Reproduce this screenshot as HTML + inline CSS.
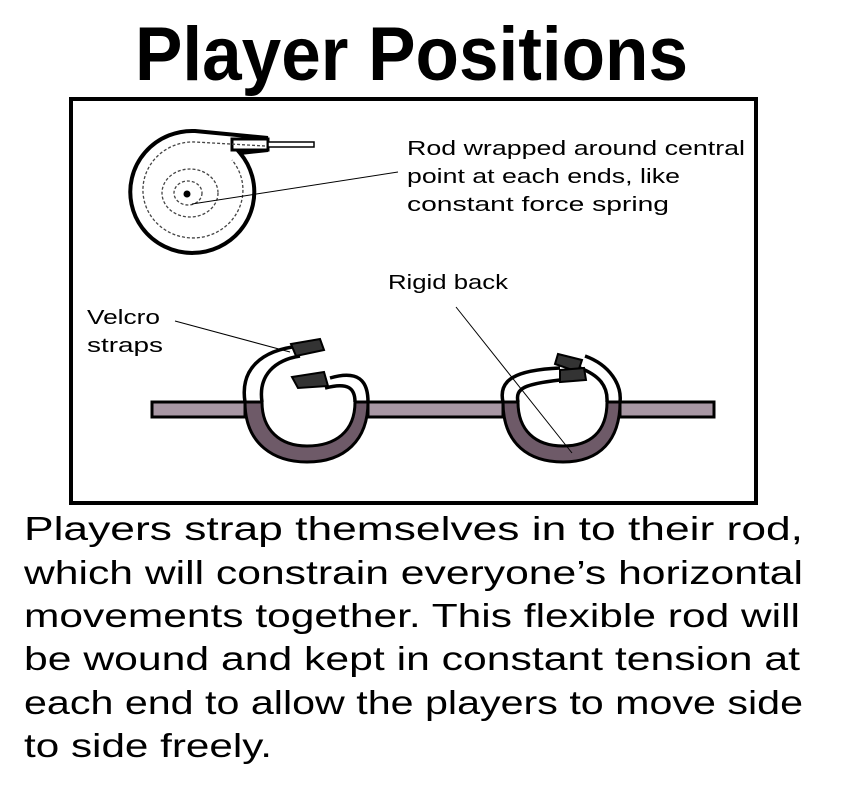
<!DOCTYPE html>
<html><head><meta charset="utf-8"><style>
html,body{margin:0;padding:0;background:#fff;}
body{width:843px;height:785px;position:relative;overflow:hidden;}
.frame{position:absolute;left:69px;top:97px;width:681px;height:400px;border:4px solid #000;}
svg{position:absolute;left:0;top:0;}
svg text{font-family:"Liberation Sans","DejaVu Sans",sans-serif;}
.lab{font-size:20px;}
.bd{font-size:33px;}
</style></head><body>
<div class="frame"></div>
<svg width="843" height="785">
  <text x="135" y="80" font-size="76" font-weight="bold" textLength="553" lengthAdjust="spacingAndGlyphs">Player Positions</text>
  <!-- spool -->
  <path d="M268,138 L195,131 A62,61 0 1 0 240,153 L268,150" fill="none" stroke="#000" stroke-width="4"/>
  <rect x="232" y="139" width="36" height="11" fill="#fff" stroke="#000" stroke-width="3"/>
  <rect x="268" y="142" width="46" height="5" fill="#fff" stroke="#000" stroke-width="1.5"/>
  <path d="M265,146 L195,142 A50,48 0 1 0 232,160" fill="none" stroke="#444" stroke-width="1.3" stroke-dasharray="3,2"/>
  <ellipse cx="190" cy="193" rx="28" ry="24" fill="none" stroke="#444" stroke-width="1.3" stroke-dasharray="3,2"/>
  <ellipse cx="188" cy="193" rx="14" ry="12" fill="none" stroke="#444" stroke-width="1.3" stroke-dasharray="3,2"/>
  <circle cx="187" cy="194" r="3.5" fill="#000"/>
  <line x1="192" y1="204" x2="398" y2="172" stroke="#000" stroke-width="1"/>
  <g lengthAdjust="spacingAndGlyphs">
  <text class="lab" x="407" y="155" textLength="338" lengthAdjust="spacingAndGlyphs">Rod wrapped around central</text>
  <text class="lab" x="407" y="183" textLength="273" lengthAdjust="spacingAndGlyphs">point at each ends, like</text>
  <text class="lab" x="407" y="211" textLength="262" lengthAdjust="spacingAndGlyphs">constant force spring</text>
  <text class="lab" x="388" y="289" textLength="120" lengthAdjust="spacingAndGlyphs">Rigid back</text>
  <text class="lab" x="87" y="324" textLength="73" lengthAdjust="spacingAndGlyphs">Velcro</text>
  <text class="lab" x="87" y="352" textLength="76" lengthAdjust="spacingAndGlyphs">straps</text>
  </g>
  <line x1="175" y1="321" x2="290" y2="352" stroke="#000" stroke-width="1"/>
  <!-- rod -->
  <rect x="152" y="402" width="93" height="15" fill="#a897a4" stroke="#000" stroke-width="3"/>
  <rect x="368" y="402" width="135" height="15" fill="#a897a4" stroke="#000" stroke-width="3"/>
  <rect x="620" y="402" width="94" height="15" fill="#a897a4" stroke="#000" stroke-width="3"/>
  <!-- left loop -->
  <path d="M245,402 C245,445 275,462 307,462 C345,462 368,440 368,402 L355,402 C355,432 335,446 307,446 C280,446 262,430 262,402 Z" fill="#6e5a68" stroke="#000" stroke-width="3"/>
  <path d="M245,402 C240,370 260,350 300,346 M262,402 C258,375 275,360 300,356" fill="none" stroke="#000" stroke-width="3.5"/>
  <path d="M368,402 C368,380 358,370 330,378 M355,402 C355,388 348,382 325,388" fill="none" stroke="#000" stroke-width="3.5"/>
  <path d="M291,344 L320,339 L324,350 L296,356 Z" fill="#333" stroke="#000" stroke-width="2"/>
  <path d="M292,377 L324,372 L328,386 L298,388 Z" fill="#333" stroke="#000" stroke-width="2"/>
  <!-- right loop -->
  <path d="M503,402 C503,445 530,462 563,462 C600,462 620,440 620,402 L607,402 C607,432 590,446 563,446 C535,446 518,430 518,402 Z" fill="#6e5a68" stroke="#000" stroke-width="3"/>
  <path d="M503,402 C498,380 515,370 560,368 M518,402 C515,388 525,384 560,380" fill="none" stroke="#000" stroke-width="3.5"/>
  <path d="M620,402 C622,385 610,365 585,356 M607,402 C608,385 598,375 580,368" fill="none" stroke="#000" stroke-width="3.5"/>
  <path d="M558,354 L582,360 L578,372 L555,364 Z" fill="#333" stroke="#000" stroke-width="2"/>
  <path d="M560,370 L584,368 L586,380 L560,382 Z" fill="#333" stroke="#000" stroke-width="2"/>
  <line x1="456" y1="307" x2="572" y2="453" stroke="#000" stroke-width="1"/>
  <!-- body -->
  <text class="bd" x="24" y="540" textLength="779" lengthAdjust="spacingAndGlyphs">Players strap themselves in to their rod,</text>
  <text class="bd" x="24" y="584" textLength="779" lengthAdjust="spacingAndGlyphs">which will constrain everyone’s horizontal</text>
  <text class="bd" x="24" y="627" textLength="776" lengthAdjust="spacingAndGlyphs">movements together. This flexible rod will</text>
  <text class="bd" x="24" y="670" textLength="776" lengthAdjust="spacingAndGlyphs">be wound and kept in constant tension at</text>
  <text class="bd" x="24" y="714" textLength="779" lengthAdjust="spacingAndGlyphs">each end to allow the players to move side</text>
  <text class="bd" x="24" y="757" textLength="248" lengthAdjust="spacingAndGlyphs">to side freely.</text>
</svg>
</body></html>
